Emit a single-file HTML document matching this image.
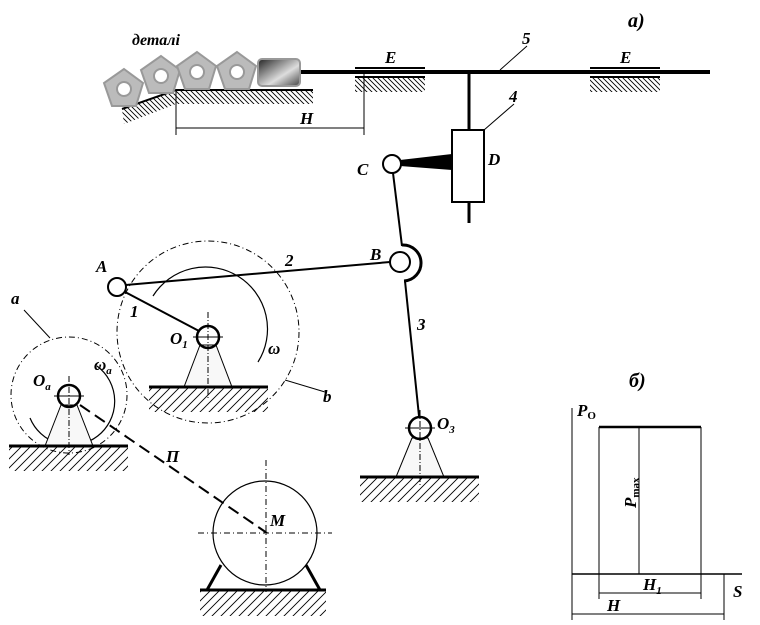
<!DOCTYPE html>
<html><head><meta charset="utf-8"><style>
body{margin:0;background:#fff}
svg{display:block}
text{font-family:"Liberation Serif",serif;font-style:italic;font-weight:bold;fill:#000}
</style></head><body>
<svg width="760" height="625" viewBox="0 0 760 625" xmlns="http://www.w3.org/2000/svg">
<defs>
<pattern id="hf" width="9" height="9" patternUnits="userSpaceOnUse"><path d="M0 9L9 0M-2 2L2 -2M7 11L11 7" stroke="#000" stroke-width="0.9"/></pattern>
<pattern id="hb" width="5" height="5" patternUnits="userSpaceOnUse"><path d="M0 0L5 5M-1 4L1 6M4 -1L6 1" stroke="#000" stroke-width="0.9"/></pattern>
<linearGradient id="g" x1="0" y1="0" x2="1" y2="1"><stop offset="0" stop-color="#222"/><stop offset="0.6" stop-color="#ddd"/><stop offset="1" stop-color="#444"/></linearGradient>
</defs>
<g fill="none" stroke="#000">
<line x1="300" y1="72" x2="710" y2="72" stroke-width="4"/>
<line x1="355" y1="68" x2="425" y2="68" stroke-width="2"/>
<line x1="355" y1="77" x2="425" y2="77" stroke-width="2"/>
<rect x="355" y="78" width="70" height="14" fill="url(#hb)" stroke="none"/>
<line x1="590" y1="68" x2="660" y2="68" stroke-width="2"/>
<line x1="590" y1="77" x2="660" y2="77" stroke-width="2"/>
<rect x="590" y="78" width="70" height="14" fill="url(#hb)" stroke="none"/>
<polygon points="122,109 176,90 313,90 313,104 176,104 124,124" fill="url(#hb)" stroke="none"/>
<polyline points="122,109 176,90 313,90" stroke-width="2"/>
<line x1="176" y1="90" x2="176" y2="135"/><line x1="364" y1="72" x2="364" y2="135"/>
<line x1="176" y1="128" x2="364" y2="128"/>
<line x1="527" y1="46" x2="500" y2="70"/><line x1="514" y1="104" x2="484" y2="130"/>
<line x1="469" y1="72" x2="469" y2="223" stroke-width="3"/>
<rect x="452" y="130" width="32" height="72" fill="#fff" stroke-width="2"/>
<polygon points="400,160 452,154 452,170 400,166" fill="#000" stroke="none"/>
<line x1="393" y1="173" x2="402" y2="246" stroke-width="2"/>
<line x1="405" y1="281" x2="419" y2="416" stroke-width="2"/>
<line x1="126" y1="285" x2="390" y2="262" stroke-width="2"/>
<line x1="125" y1="292" x2="199" y2="331" stroke-width="2"/>
<path d="M402,245 A18,18 0 0 1 404,281" stroke-width="3"/>
<circle cx="392" cy="164" r="9" fill="#fff" stroke-width="2"/>
<circle cx="400" cy="262" r="10" fill="#fff" stroke-width="2"/>
<circle cx="117" cy="287" r="9" fill="#fff" stroke-width="2"/>
<circle cx="208" cy="332" r="91" stroke-dasharray="6,3,1,3"/>
<path d="M153,296 A56,56 0 1 1 258,362" stroke-width="1.2"/>
<polygon points="200,345 184,387 232,387 216,345" fill="#f8f8f8"/>
<rect x="149" y="388" width="119" height="24" fill="url(#hf)" stroke="none"/>
<line x1="149" y1="387" x2="268" y2="387" stroke-width="3"/>
<line x1="208" y1="312" x2="208" y2="400" stroke-dasharray="6,2,1,2"/>
<line x1="193" y1="337" x2="223" y2="337"/>
<circle cx="208" cy="337" r="11" fill="none" stroke-width="2.5"/>
<line x1="285" y1="380" x2="325" y2="392"/>
<circle cx="69" cy="395" r="58" stroke-dasharray="6,3,1,3"/>
<line x1="24" y1="310" x2="50" y2="338"/>
<path d="M97,366 A44,44 0 1 1 30,418" stroke-width="1.2"/>
<polygon points="61,405 45,446 93,446 77,405" fill="#f8f8f8"/>
<rect x="9" y="447" width="119" height="24" fill="url(#hf)" stroke="none"/>
<line x1="9" y1="446" x2="128" y2="446" stroke-width="3"/>
<line x1="69" y1="376" x2="69" y2="455" stroke-dasharray="6,2,1,2"/>
<line x1="54" y1="396" x2="84" y2="396"/>
<circle cx="69" cy="396" r="11" stroke-width="2.5"/>
<line x1="80" y1="405" x2="267" y2="533" stroke-width="2" stroke-dasharray="12,6"/>
<circle cx="265" cy="533" r="52" stroke-width="1.2"/>
<line x1="198" y1="533" x2="332" y2="533" stroke-dasharray="6,3,1,3"/>
<line x1="266" y1="460" x2="266" y2="592" stroke-dasharray="6,3,1,3"/>
<line x1="221" y1="565" x2="207" y2="590" stroke-width="3"/>
<line x1="306" y1="565" x2="320" y2="590" stroke-width="3"/>
<rect x="200" y="591" width="126" height="25" fill="url(#hf)" stroke="none"/>
<line x1="200" y1="590" x2="326" y2="590" stroke-width="3"/>
<polygon points="412,438 396,477 444,477 428,438" fill="#f8f8f8"/>
<rect x="360" y="478" width="119" height="24" fill="url(#hf)" stroke="none"/>
<line x1="360" y1="477" x2="479" y2="477" stroke-width="3"/>
<line x1="420" y1="410" x2="420" y2="485" stroke-dasharray="6,2,1,2"/>
<line x1="405" y1="428" x2="435" y2="428"/>
<circle cx="420" cy="428" r="11" stroke-width="2.5"/>
<line x1="572" y1="408" x2="572" y2="620"/>
<line x1="572" y1="574" x2="742" y2="574" stroke-width="1.5"/>
<line x1="599" y1="427" x2="701" y2="427" stroke-width="2.5"/>
<line x1="599" y1="427" x2="599" y2="599"/><line x1="701" y1="427" x2="701" y2="599"/>
<line x1="639" y1="427" x2="639" y2="574"/>
<line x1="599" y1="593" x2="701" y2="593"/>
<line x1="724" y1="574" x2="724" y2="620"/>
<line x1="572" y1="614" x2="724" y2="614"/>
</g>
<g stroke="#999" stroke-width="2" fill="#bbb">
<polygon points="124,69 143,83 136,106 112,106 104,83"/>
<polygon points="161,56 180,70 173,93 149,93 141,70"/>
<polygon points="197,52 216,66 209,89 185,89 177,66"/>
<polygon points="237,52 256,66 249,89 225,89 217,66"/>
<rect x="258" y="59" width="42" height="27" rx="4" fill="url(#g)"/>
<g fill="#fff"><circle cx="124" cy="89" r="7"/><circle cx="161" cy="76" r="7"/><circle cx="197" cy="72" r="7"/><circle cx="237" cy="72" r="7"/></g>
</g>
<g font-size="17">
<text x="628" y="27" font-size="20">а)</text>
<text x="132" y="45" font-size="16">деталі</text>
<text x="385" y="63">E</text><text x="620" y="63">E</text>
<text x="522" y="44">5</text><text x="509" y="102">4</text>
<text x="300" y="124">H</text>
<text x="357" y="175">C</text><text x="488" y="165">D</text>
<text x="370" y="260">B</text><text x="96" y="272">A</text>
<text x="285" y="266">2</text><text x="130" y="317">1</text><text x="417" y="330">3</text>
<text x="170" y="344">O<tspan font-size="11" dy="4">1</tspan></text>
<text x="268" y="354" font-style="normal">ω</text>
<text x="94" y="370" font-style="normal">ω<tspan font-size="11" dy="4" font-style="italic">a</tspan></text>
<text x="33" y="386">O<tspan font-size="11" dy="4">a</tspan></text>
<text x="11" y="304">a</text><text x="323" y="402">b</text>
<text x="166" y="462">П</text>
<text x="270" y="526">M</text>
<text x="437" y="429" font-style="normal">O<tspan font-size="11" dy="4">3</tspan></text>
<text x="629" y="387" font-size="20">б)</text>
<text x="577" y="416">P<tspan font-size="11" dy="3" font-style="normal">O</tspan></text>
<text x="733" y="597">S</text>
<text x="643" y="590">H<tspan font-size="11" dy="4">1</tspan></text>
<text x="607" y="611">H</text>
<text transform="translate(636,508) rotate(-90)">P<tspan font-size="11" dy="3" font-style="normal">max</tspan></text>
</g>
</svg>
</body></html>
